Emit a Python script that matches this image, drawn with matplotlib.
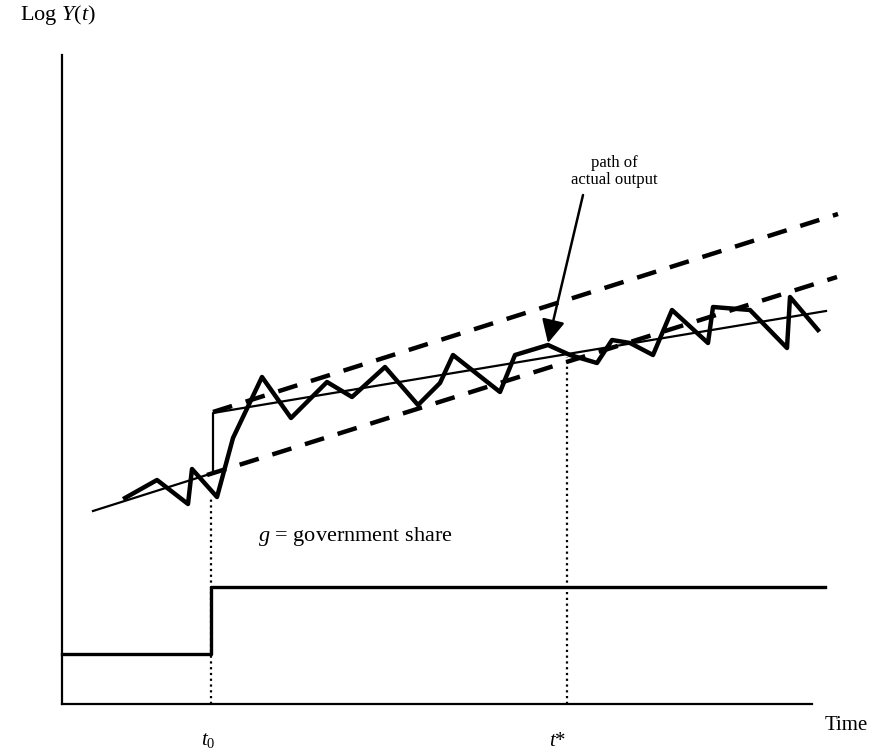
import matplotlib
matplotlib.use("Agg")
import matplotlib.pyplot as plt
import numpy as np

plt.rcParams['font.family'] = ['Liberation Serif', 'DejaVu Serif']
plt.rcParams['mathtext.fontset'] = 'custom'
plt.rcParams['mathtext.rm'] = 'Liberation Serif'
plt.rcParams['mathtext.it'] = 'Liberation Serif:italic'

# ---- data (time and log-output in arbitrary units) ----
actual_t = [63, 95, 126, 130, 155, 171, 200, 229, 265, 290, 323, 356, 378, 391,
            438, 453, 486, 508, 535, 550, 568, 591, 610, 646, 651, 688, 725, 728, 756]
actual_y = [206, 224, 200, 235, 207, 266, 327, 286, 322, 307, 337, 299, 321, 349,
            312, 349, 359, 349, 341, 364, 361, 349, 394, 361, 397, 394, 356, 407, 374]

trend_t = [31, 151, 151, 764]
trend_y = [193, 231, 291, 393]

old_path_t = [145, 775]
old_path_y = [229, 427]

new_path_t = [151, 776]
new_path_y = [292, 490]

t0 = 149
t_star = 505
g_t = [0, 149, 149, 763]
g_y = [50, 50, 117, 117]

fig = plt.figure(figsize=(8.79, 7.5), dpi=100)
ax = fig.add_axes([62/879, 46/750, 750/879, 649/750])
ax.set_xlim(0, 750)
ax.set_ylim(0, 649)
for s in ['top', 'right']:
    ax.spines[s].set_visible(False)
for s in ['left', 'bottom']:
    ax.spines[s].set_linewidth(1.6)
ax.set_xticks([])
ax.set_yticks([])

# dashed trend paths
ax.plot(old_path_t, old_path_y, color='black', lw=3.2, dashes=(4.5, 3.2), clip_on=False)
ax.plot(new_path_t, new_path_y, color='black', lw=3.2, dashes=(4.5, 3.2), clip_on=False)
# solid trend
ax.plot(trend_t, trend_y, color='black', lw=1.6, clip_on=False)
# actual output
ax.plot(actual_t, actual_y, color='black', lw=3.2, clip_on=False)
# government share
ax.plot(g_t, g_y, color='black', lw=2.4, clip_on=False)
# dotted verticals
ax.plot([t0, t0], [0, 207], color='black', lw=1.6, linestyle=(0, (1, 1.6)))
ax.plot([t_star, t_star], [0, 347], color='black', lw=1.6, linestyle=(0, (1, 1.6)))

# arrow
ax.annotate('', xy=(486, 361), xytext=(521, 509),
            arrowprops=dict(arrowstyle='-|>,head_length=1.4,head_width=0.7',
                            color='black', lw=1.8, shrinkA=0, shrinkB=0))
ax.text(552, 516, 'path of\nactual output', ha='center', va='bottom',
        fontsize=12, linespacing=1.05)

ax.text(196, 163, r'$g$ = government share', ha='left', va='baseline', fontsize=16)
ax.text(-42, 684, r'Log $Y(t)$', ha='left', va='baseline', fontsize=16, clip_on=False)
ax.text(763, -21, 'Time', ha='left', va='center', fontsize=15, clip_on=False)
ax.text(146, -37, r'$t_0$', ha='center', va='center', fontsize=15, clip_on=False)
ax.text(496, -37, r'$t$*', ha='center', va='center', fontsize=15, clip_on=False)

fig.savefig('out.png', dpi=100)
